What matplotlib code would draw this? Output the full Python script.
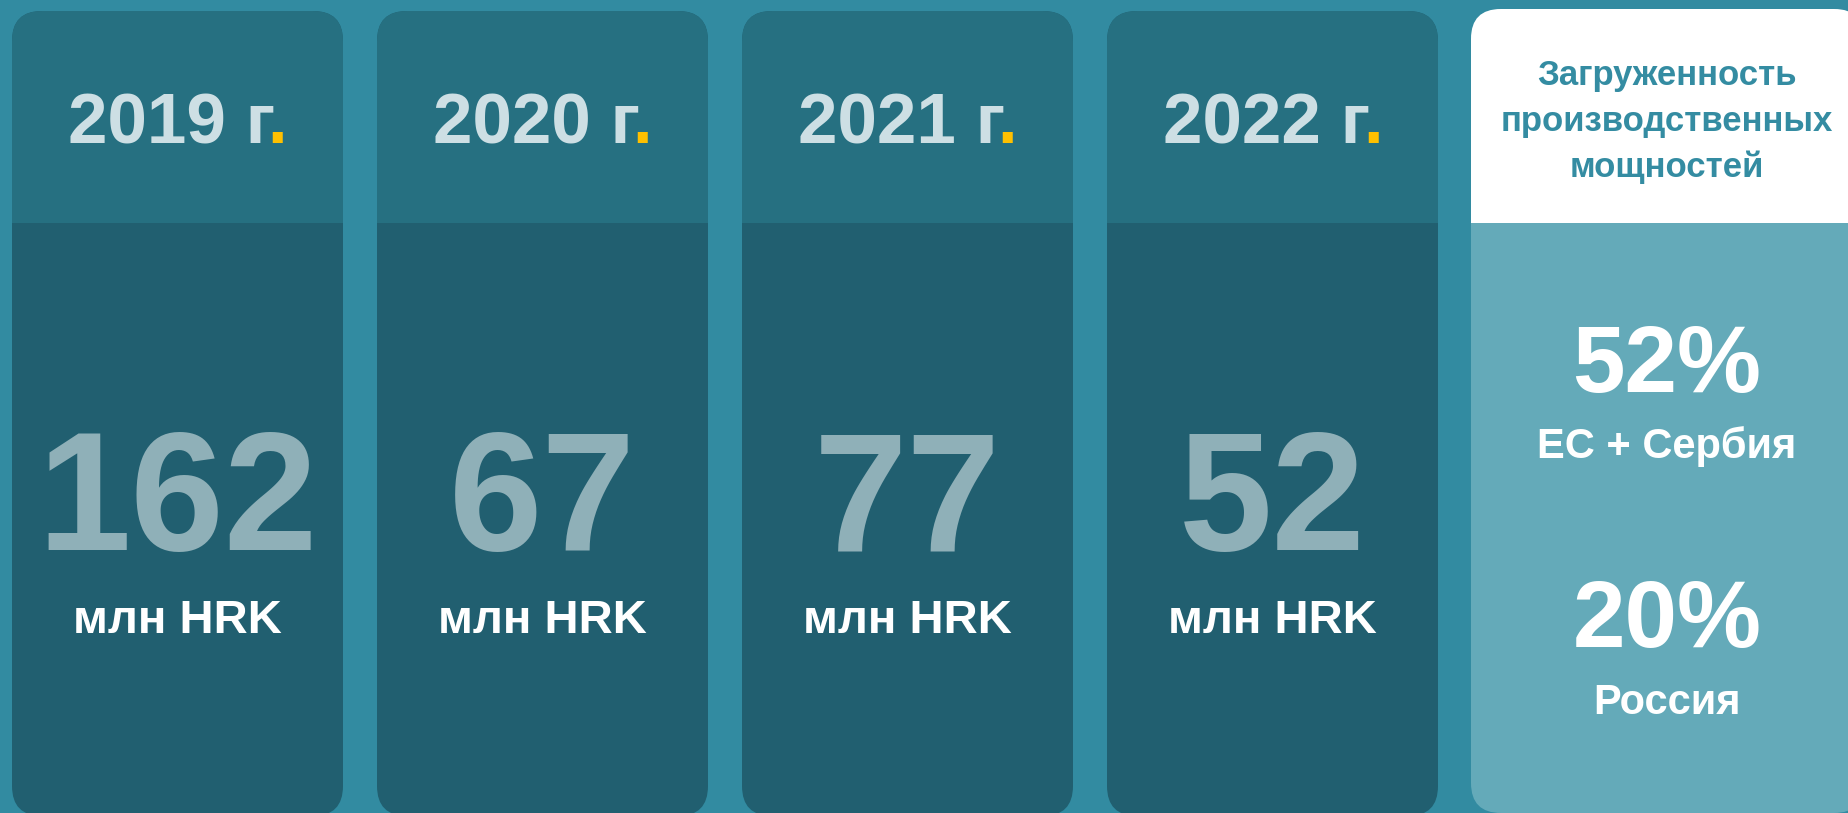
"""Info cards: yearly values in mln HRK plus capacity utilisation card."""

import matplotlib
matplotlib.use('Agg')
import matplotlib.pyplot as plt
from matplotlib.patches import FancyBboxPatch, Rectangle

years = ['2019', '2020', '2021', '2022']
values = [162, 67, 77, 52]
unit = 'млн HRK'
load_title = ['Загруженность', 'производственных', 'мощностей']
load_shares = [52, 20]
load_regions = ['ЕС + Сербия', 'Россия']

BG = '#328ba1'
HEAD = '#267081'
BODY = '#215f70'
LIGHT_BODY = '#64aab9'
YEAR_TXT = '#cddfe4'
NUM_TXT = '#8fb0b8'
YELLOW = '#ffc000'
TITLE_TXT = '#348ca2'

W, H = 1848, 813
plt.rcParams['font.family'] = ['Liberation Sans', 'DejaVu Sans']

fig = plt.figure(figsize=(W / 100, H / 100), dpi=100)
fig.patch.set_facecolor(BG)
ax = fig.add_axes([0, 0, 1, 1])
ax.set_xlim(0, W)
ax.set_ylim(H, 0)
ax.axis('off')


def card(x0, x1, top, bottom, split, head_color, body_color):
    """Rounded card with a header band clipped to the card outline."""
    r = 30
    shape = FancyBboxPatch((x0 + r, top + r), x1 - x0 - 2 * r, bottom - top - 2 * r,
                           boxstyle=f'round,pad={r}', fc=body_color, ec='none')
    ax.add_patch(shape)
    head = Rectangle((x0, top), x1 - x0, split - top, fc=head_color, ec='none')
    ax.add_patch(head)
    head.set_clip_path(shape)


lefts = [12, 377, 742, 1107]
card_w = 331
fig.canvas.draw()
renderer = fig.canvas.get_renderer()
inv = ax.transData.inverted()

for i, (yr, val) in enumerate(zip(years, values)):
    x0 = lefts[i]
    cx = x0 + card_w / 2
    card(x0, x0 + card_w, 11, 816, 223, HEAD, BODY)

    # measure the whole label, then draw it in two colours side by side
    probe = ax.text(cx, 143, f'{yr} г.', ha='center', va='baseline',
                    fontsize=51, fontweight='bold')
    bb = probe.get_window_extent(renderer)
    probe.remove()
    left_x = inv.transform((bb.x0, bb.y0))[0]
    right_x = inv.transform((bb.x1, bb.y0))[0]
    ax.text(left_x, 143, f'{yr} г', ha='left', va='baseline',
            fontsize=51, fontweight='bold', color=YEAR_TXT)
    ax.text(right_x, 143, '.', ha='right', va='baseline',
            fontsize=51, fontweight='bold', color=YELLOW)

    ax.text(cx, 550, str(val), ha='center', va='baseline',
            fontsize=121, fontweight='bold', color=NUM_TXT)
    ax.text(cx, 633, unit, ha='center', va='baseline',
            fontsize=34, fontweight='bold', color='white')

# capacity card
card(1471, 1864, 9, 813, 223, 'white', LIGHT_BODY)
ccx = 1667
for line, base in zip(load_title, [85, 131, 177]):
    ax.text(ccx, base, line, ha='center', va='baseline',
            fontsize=25, fontweight='bold', color=TITLE_TXT)

for share, region, (b1, b2) in zip(load_shares, load_regions,
                                   [(392, 458), (647, 714)]):
    ax.text(ccx, b1, f'{share}%', ha='center', va='baseline',
            fontsize=68, fontweight='bold', color='white')
    ax.text(ccx, b2, region, ha='center', va='baseline',
            fontsize=30, fontweight='bold', color='white')

fig.savefig('out.png', dpi=100, facecolor=BG)
plt.close(fig)
